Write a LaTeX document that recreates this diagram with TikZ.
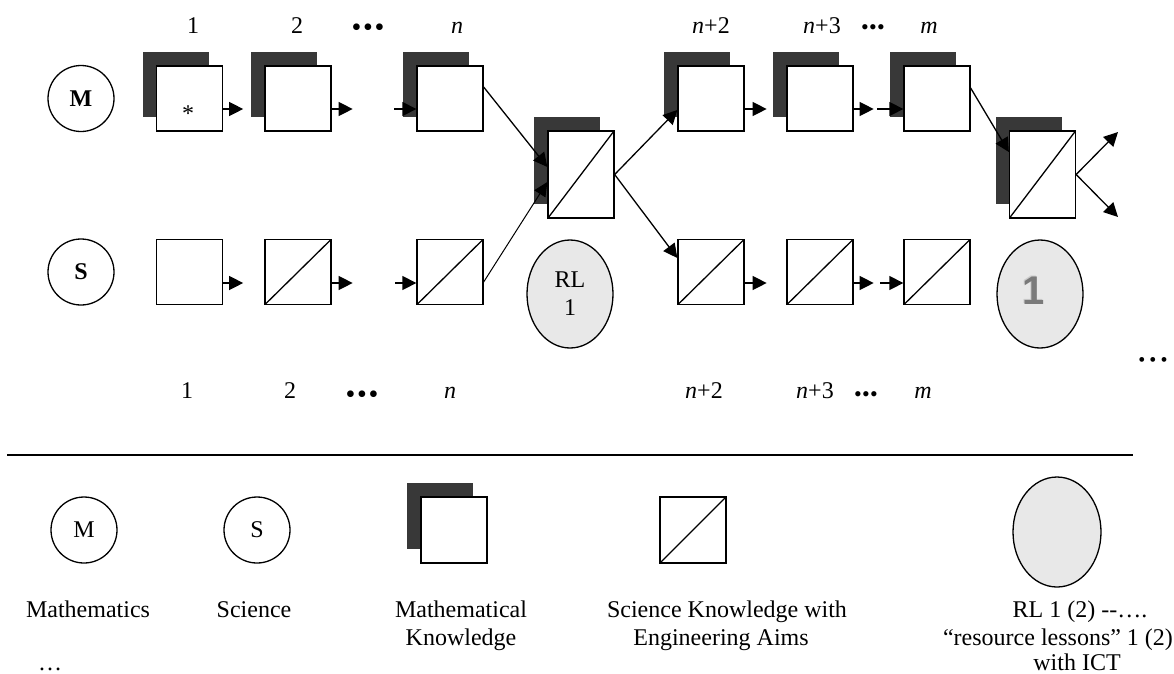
\documentclass[tikz,border=0pt]{standalone}
\usepackage{fontspec}
\setmainfont{Liberation Serif}
\newfontfamily\headsans{Liberation Sans}
\usetikzlibrary{arrows.meta,shapes.geometric,shadows}

\definecolor{shade}{gray}{0.22}
\definecolor{rlfill}{gray}{0.91}
\definecolor{onegray}{gray}{0.48}

\newcommand{\bigdots}{•\kern1.8pt•\kern1.8pt•}
\newcommand{\tightdots}{•\kern0.3pt•\kern0.3pt•}

\tikzset{
  every node/.style={font=\fontsize{24}{28}\selectfont},
  bold/.style={font=\fontsize{24}{28}\selectfont\bfseries},
  dots/.style={inner sep=0pt, anchor=center, font=\fontsize{28}{30}\selectfont},
  small dots/.style={inner sep=0pt, anchor=center, font=\fontsize{22}{24}\selectfont},
  plain/.style={draw, line width=1.3pt, fill=white, minimum width=66pt,
    minimum height=65pt, inner sep=0pt},
  mk/.style={plain, general shadow={fill=shade, shadow xshift=-14pt, shadow yshift=14.5pt}},
  diag/.style={path picture={\draw[line width=1.3pt]
    (path picture bounding box.south west) -- (path picture bounding box.north east);}},
  tall/.style={minimum height=87pt},
  subj/.style={draw, circle, line width=1.3pt, minimum size=66pt, inner sep=0pt},
  rl/.style={draw, ellipse, line width=1.3pt, fill=rlfill, minimum width=86pt,
    minimum height=108pt, inner sep=0pt},
  arr/.style={line width=1.3pt, -{Triangle[length=14pt,width=14pt]}},
  thin arr/.style={line width=1pt, -{Triangle[length=14pt,width=13pt]}},
  lab/.style={anchor=base, inner sep=0pt},
}

\begin{document}
\begin{tikzpicture}[x=1pt, y=-1pt]
\useasboundingbox (0,0) rectangle (1174,673);

% subject circles
\node[subj, bold] (M) at (81,98.5) {M};
\node[subj, bold] (S) at (81,272) {S};

% mathematics row
\node[mk] (m1) at (189.5,98.5) {};
\node[mk] (m2) at (298,98.5) {};
\node[mk] (mn) at (450,98.5) {};
\node[mk] (mn2) at (711,98.5) {};
\node[mk] (mn3) at (820,98.5) {};
\node[mk] (mm) at (937,98.5) {};
\node[inner sep=0pt] (star) at (188,114) {*};

% combined lessons
\node[mk, diag, tall] (mid) at (581,174.5) {};
\node[mk, diag, tall] (last) at (1042.5,174.5) {};

% science row
\node[plain] (s1) at (189.5,272) {};
\node[plain, diag] (s2) at (298,272) {};
\node[plain, diag] (sn) at (450,272) {};
\node[plain, diag] (sn2) at (711,272) {};
\node[plain, diag] (sn3) at (820,272) {};
\node[plain, diag] (sm) at (937,272) {};

% resource lessons
\node[rl, align=center] (rl1) at (570,294) {RL\\1};
\node[rl] (rl2) at (1040,294) {};
\node[text=gray!40, inner sep=0pt, font=\headsans\bfseries\fontsize{40}{40}\selectfont] (oneshade) at (1032.6,289.6) {1};
\node[text=onegray, inner sep=0pt, font=\headsans\bfseries\fontsize{40}{40}\selectfont] (one) at (1034,291) {1};

% arrows along the mathematics row
\draw[arr] ([yshift=-10.5pt]m1.east) -- ++(20,0);
\draw[arr] ([yshift=-10.5pt]m2.east) -- ++(21,0);
\draw[arr] ([xshift=-22pt,yshift=-10.5pt]mn.west) -- ([yshift=-10.5pt]mn.west);
\draw[arr] ([yshift=-10.5pt]mn2.east) -- ++(22,0);
\draw[arr] ([yshift=-10.5pt]mn3.east) -- ++(20,0);
\draw[arr] ([xshift=-26pt,yshift=-10.5pt]mm.west) -- ([yshift=-10.5pt]mm.west);

% arrows along the science row
\draw[arr] ([yshift=-11pt]s1.east) -- ++(20,0);
\draw[arr] ([yshift=-11pt]s2.east) -- ++(21,0);
\draw[arr] ([xshift=-21pt,yshift=-11pt]sn.west) -- ([yshift=-11pt]sn.west);
\draw[arr] ([yshift=-11pt]sn2.east) -- ++(22,0);
\draw[arr] ([yshift=-11pt]sn3.east) -- ++(20,0);
\draw[arr] ([xshift=-23pt,yshift=-11pt]sm.west) -- ([yshift=-11pt]sm.west);

% merging and branching
\draw[arr] ([yshift=11.5pt]mn.east) -- ([yshift=7.5pt]mid.west);
\draw[thin arr] ([yshift=-10pt]sn.east) -- ([yshift=-7.5pt]mid.west);
\draw[arr] (mid.east) -- ([yshift=-11.5pt]mn2.west);
\draw[arr] (mid.east) -- ([yshift=14pt]sn2.west);
\draw[arr] ([yshift=10.5pt]mm.east) -- ([yshift=22.5pt]last.west);
\coordinate (outup) at (1118,132);
\coordinate (outdown) at (1118,217);
\draw[arr] (last.east) -- (outup);
\draw[arr] (last.east) -- (outdown);

% lesson numbers above
\node[lab] (tl1) at (193,33) {1};
\node[lab] (tl2) at (297,33) {2};
\node[dots] (tld1) at (368,30) {\bigdots};
\node[lab] (tln) at (457,33) {\itshape n};
\node[lab] (tln2) at (711,33) {{\itshape n}+2};
\node[lab] (tln3) at (822,33) {{\itshape n}+3};
\node[small dots] (tld2) at (873,30) {\tightdots};
\node[lab] (tlm) at (929,33) {\itshape m};

% lesson numbers below
\node[lab] (bl1) at (187,398) {1};
\node[lab] (bl2) at (290,398) {2};
\node[dots] (bld1) at (362,397) {\bigdots};
\node[lab] (bln) at (450,398) {\itshape n};
\node[lab] (bln2) at (704,398) {{\itshape n}+2};
\node[lab] (bln3) at (815,398) {{\itshape n}+3};
\node[small dots] (bld2) at (866,397) {\tightdots};
\node[lab] (blm) at (923,398) {\itshape m};
\node[small dots, font=\fontsize{20}{22}\selectfont] (rdots) at (1153,362) {•\kern4.2pt•\kern4.2pt•};

% separator
\coordinate (ruleL) at (7,455);
\coordinate (ruleR) at (1133,455);
\draw[line width=1.3pt] (ruleL) -- (ruleR);

% key
\node[subj] (lm) at (84,530) {M};
\node[subj] (ls) at (257,530) {S};
\node[mk, minimum height=66pt] (lmk) at (454,530) {};
\node[plain, diag, minimum height=66pt] (lsk) at (693,530) {};
\node[rl, minimum width=88pt, minimum height=110pt] (lrl) at (1057,532) {};

\node[lab] (km) at (88,617) {Mathematics};
\node[lab] (kdots) at (50,670) {…};
\node[lab] (ks) at (254,617) {Science};
\node[lab] (kmk1) at (461,617) {Mathematical};
\node[lab] (kmk2) at (461,645) {Knowledge};
\node[lab] (ksk1) at (727,617) {Science Knowledge with};
\node[lab] (ksk2) at (721,645) {Engineering Aims};
\node[lab] (krl1) at (1080,617) {RL 1 (2) -{}-….};
\node[lab] (krl2) at (1058,645) {“resource lessons” 1 (2)};
\node[lab] (krl3) at (1077,670) {with ICT};
\end{tikzpicture}
\end{document}
